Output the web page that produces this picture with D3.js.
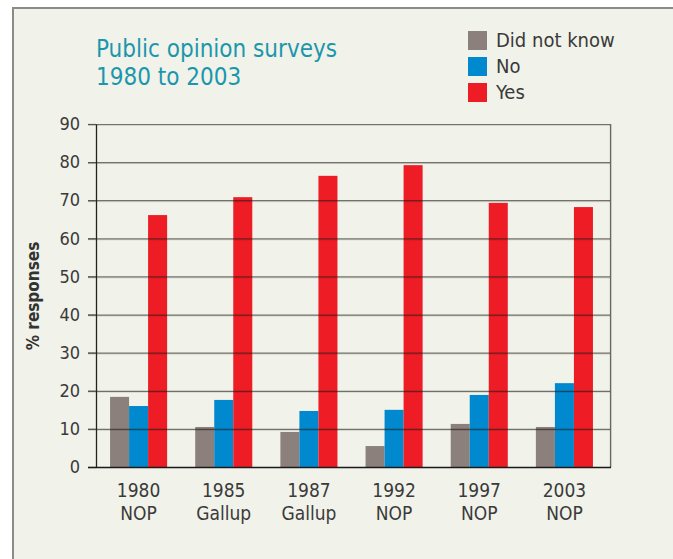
<!DOCTYPE html>
<html>
<head>
<meta charset="utf-8">
<script src="https://cdn.jsdelivr.net/npm/d3@7"></script>
<style>
  html, body { margin: 0; padding: 0; background: #fff; }
  text { font-family: "Liberation Sans Narrow", "DejaVu Sans Condensed", sans-serif; }
</style>
</head>
<body>
<div id="roott"></div>
<script>
// data
let surveys = ["1980", "1985", "1987", "1992", "1997", "2003"];
let pollsters = ["NOP", "Gallup", "Gallup", "NOP", "NOP", "NOP"];
let didNotKnow = [18.4, 10.5, 9.2, 5.5, 11.3, 10.5];
let noVals = [16.0, 17.6, 14.7, 15.0, 18.9, 22.0];
let yesVals = [66.1, 70.8, 76.4, 79.2, 69.3, 68.2];
let seriesNames = ["Did not know", "No", "Yes"];
let yTicks = [0, 10, 20, 30, 40, 50, 60, 70, 80, 90];

//DIMENSIONS
let widthh = 673, heightt = 559;
let plotL = 96, plotR = 610, plotT = 124, plotB = 467;

let colors = d3.scaleOrdinal().domain(seriesNames).range(["#8c807c", "#0089cf", "#ee1c25"]);

let rows = surveys.map((s, i) => ({
  survey: s,
  pollster: pollsters[i],
  "Did not know": didNotKnow[i],
  "No": noVals[i],
  "Yes": yesVals[i]
}));

let svg = d3.select("#roott").append("svg")
  .attr("width", widthh)
  .attr("height", heightt);

// panel
svg.append("rect").attr("x", 13).attr("y", 8).attr("width", widthh).attr("height", heightt)
  .style("fill", "#f1f2e9").style("stroke", "#8a8a86").style("stroke-width", 2);

let x0 = d3.scaleBand().domain(surveys).range([plotL, plotR - 3]).paddingInner(0.33).paddingOuter(0.165);
let x1 = d3.scaleBand().domain(seriesNames).range([0, x0.bandwidth()]);
let y = d3.scaleLinear().domain([0, 90]).range([plotB, plotT]);

// bars
svg.append("g").selectAll("g")
  .data(rows)
  .enter().append("g")
  .attr("transform", d => `translate(${x0(d.survey)},0)`)
  .selectAll("rect")
  .data(d => seriesNames.map(k => ({ key: k, value: d[k] })))
  .enter().append("rect")
  .attr("x", d => x1(d.key))
  .attr("y", d => y(d.value))
  .attr("width", x1.bandwidth())
  .attr("height", d => y(0) - y(d.value))
  .style("fill", d => colors(d.key));

// gridlines on top of bars
let grid = svg.append("g");
yTicks.filter(t => t > 0).forEach(t => {
  grid.append("line").attr("x1", plotL - 8).attr("x2", plotR).attr("y1", y(t) + 1.5).attr("y2", y(t) + 1.5)
    .style("stroke", "rgba(0,0,0,0.12)").style("stroke-width", 1);
  grid.append("line").attr("x1", plotL - 8).attr("x2", plotR).attr("y1", y(t) + 0.5).attr("y2", y(t) + 0.5)
    .style("stroke", "rgba(30,30,25,0.6)").style("stroke-width", 1.2);
});
// right frame
grid.append("line").attr("x1", plotR + 1.5).attr("x2", plotR + 1.5).attr("y1", plotT).attr("y2", plotB)
  .style("stroke", "rgba(0,0,0,0.12)").style("stroke-width", 1);
grid.append("line").attr("x1", plotR + 0.5).attr("x2", plotR + 0.5).attr("y1", plotT).attr("y2", plotB + 1)
  .style("stroke", "rgba(30,30,25,0.65)").style("stroke-width", 1.2);

// y axis
let yAxis = svg.append("g")
  .attr("transform", `translate(${plotL},0)`)
  .call(d3.axisLeft(y).tickValues(yTicks).tickSize(8).tickPadding(8).tickSizeOuter(0));
yAxis.select(".domain").style("stroke", "#222").style("stroke-width", 1.3);
yAxis.selectAll(".tick line").style("stroke", "#555").style("stroke-width", 1.2);
yAxis.selectAll(".tick text")
  .style("font-family", "'Liberation Sans Narrow', 'DejaVu Sans Condensed', sans-serif")
  .style("font-size", "18px").style("fill", "#3a3a3a");

// baseline
svg.append("line").attr("x1", plotL - 8).attr("x2", plotR + 1).attr("y1", plotB + 0.5).attr("y2", plotB + 0.5)
  .style("stroke", "#1a1a1a").style("stroke-width", 1.6);

// x labels
let xl = svg.append("g");
rows.forEach(d => {
  let cx = x0(d.survey) + x0.bandwidth() / 2;
  let t = xl.append("text").attr("x", cx).attr("y", 497).attr("text-anchor", "middle")
    .style("font-size", "19px").style("fill", "#3a3a3a");
  t.append("tspan").attr("x", cx).attr("dy", 0).text(d.survey);
  t.append("tspan").attr("x", cx).attr("dy", 23).text(d.pollster);
});

// y label
svg.append("text")
  .attr("transform", "translate(39,296) rotate(-90)")
  .attr("text-anchor", "middle")
  .style("font-family", "'DejaVu Sans Condensed', sans-serif")
  .style("font-weight", "bold")
  .style("font-size", "17px").style("fill", "#333")
  .text("% responses");

// title
let title = svg.append("text").attr("x", 96).attr("y", 57)
  .style("font-size", "24px").style("fill", "#1b97ad");
title.append("tspan").attr("x", 96).attr("dy", 0).text("Public opinion surveys");
title.append("tspan").attr("x", 96).attr("dy", 28).text("1980 to 2003");

// legend
let legend = svg.append("g").attr("transform", "translate(468,31)");
seriesNames.forEach((k, i) => {
  let g = legend.append("g").attr("transform", `translate(0,${i * 26})`);
  g.append("rect").attr("width", 19).attr("height", 19).style("fill", colors(k));
  g.append("text").attr("x", 28).attr("y", 16).style("font-size", "20px").style("fill", "#3a3a3a").text(k);
});
</script>
</body>
</html>
